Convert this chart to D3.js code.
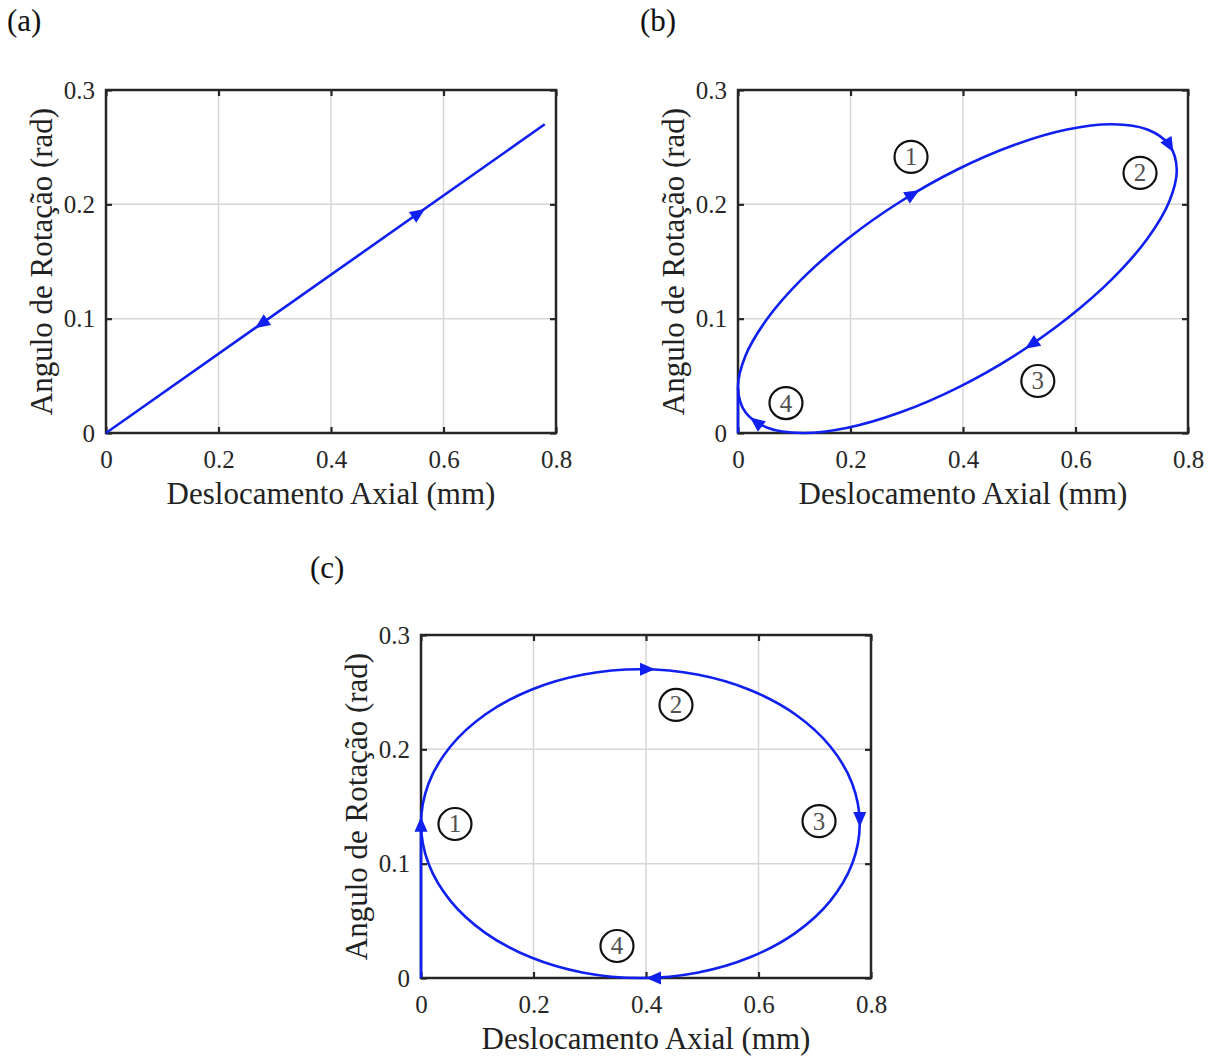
<!DOCTYPE html>
<html>
<head>
<meta charset="utf-8">
<script src="https://cdn.jsdelivr.net/npm/d3@7"></script>
<style>
  body { margin: 0; background: #fff; }
  svg { display: block; }
  text { font-family: "Liberation Serif", "Times New Roman", serif; }
</style>
</head>
<body>
<svg id="fig" width="1215" height="1057"></svg>
<script>
// ---- shared axis content ----
const xTicks = [0, 0.2, 0.4, 0.6, 0.8];
const yTicks = [0, 0.1, 0.2, 0.3];
const xTickLabels = ["0", "0.2", "0.4", "0.6", "0.8"];
const yTickLabels = ["0", "0.1", "0.2", "0.3"];
const xTitle = "Deslocamento Axial (mm)";
const yTitle = "Angulo de Rotação (rad)";

// ---- (a) in-phase motion: straight path ----
const pathA = [[0, 0], [0.78, 0.27]];
// arrows: [tipX, tipY, fromX, fromY]
const arrowsA = [[0.567, 0.196, 0.52, 0.18], [0.265, 0.0917, 0.31, 0.107]];

// ---- (b) 45 degree phase shift ----
const leadB = [[0, 0], [0, 0.0395]];
const loopB = [
  [0, 0.0395], [0.0133, 0.0675], [0.0523, 0.1001], [0.1142, 0.135],
  [0.195, 0.1699], [0.289, 0.2025], [0.39, 0.2305], [0.491, 0.2519],
  [0.585, 0.2654], [0.6658, 0.27], [0.7277, 0.2654], [0.7667, 0.2519],
  [0.78, 0.2305], [0.7667, 0.2025], [0.7277, 0.1699], [0.6658, 0.135],
  [0.585, 0.1001], [0.491, 0.0675], [0.39, 0.0395], [0.289, 0.0181],
  [0.195, 0.0046], [0.1142, 0], [0.0523, 0.0046], [0.0133, 0.0181]
];
const arrowsB = [
  [0.3223, 0.2124, 0.289, 0.2025],
  [0.7741, 0.2456, 0.7667, 0.2519],
  [0.5105, 0.0737, 0.5424, 0.0844],
  [0.0213, 0.0137, 0.0337, 0.009]
];
const stagesB = [["1", 0.3076, 0.2415], ["2", 0.7147, 0.2275], ["3", 0.533, 0.0455], ["4", 0.0853, 0.0262]];

// ---- (c) 90 degree phase shift ----
const leadC = [[0, 0], [0, 0.135]];
const loopC = [
  [0, 0.135], [0.0133, 0.1699], [0.0523, 0.2025], [0.1142, 0.2305],
  [0.195, 0.2519], [0.289, 0.2654], [0.39, 0.27], [0.491, 0.2654],
  [0.585, 0.2519], [0.6658, 0.2305], [0.7277, 0.2025], [0.7667, 0.1699],
  [0.78, 0.135], [0.7667, 0.1001], [0.7277, 0.0675], [0.6658, 0.0395],
  [0.585, 0.0181], [0.491, 0.0046], [0.39, 0], [0.289, 0.0046],
  [0.195, 0.0181], [0.1142, 0.0395], [0.0523, 0.0675], [0.0133, 0.1001]
];
const arrowsC = [
  [0, 0.141, 0, 0.12],
  [0.416, 0.27, 0.39, 0.27],
  [0.78, 0.132, 0.78, 0.15],
  [0.40, 0, 0.43, 0]
];
const stagesC = [["1", 0.0604, 0.1347], ["2", 0.4533, 0.2388], ["3", 0.7076, 0.1372], ["4", 0.3484, 0.028]];

const svg = d3.select("#fig");
const W = 450, H = 343;
const axisColor = "#262626";
const lineColor = "#1020f0";

function panel(opt) {
  const { left, top, tag, tagX, tagY, lead, loop, line, arrows, stages } = opt;
  const x = d3.scaleLinear().domain([0, 0.8]).range([left, left + W]);
  const y = d3.scaleLinear().domain([0, 0.3]).range([top + H, top]);
  const g = svg.append("g");

  // grid
  g.append("g").selectAll("line").data(xTicks).join("line")
    .attr("x1", d => x(d)).attr("x2", d => x(d)).attr("y1", top).attr("y2", top + H)
    .attr("stroke", "#d6d6d6").attr("stroke-width", 1.5);
  g.append("g").selectAll("line").data(yTicks).join("line")
    .attr("y1", d => y(d)).attr("y2", d => y(d)).attr("x1", left).attr("x2", left + W)
    .attr("stroke", "#d6d6d6").attr("stroke-width", 1.5);

  const styleAxis = sel => {
    sel.attr("font-family", null);
    sel.select(".domain").remove();
    sel.selectAll(".tick line").attr("stroke", axisColor).attr("stroke-width", 2.2);
    sel.selectAll(".tick text").attr("fill", axisColor).style("font-size", "25px");
  };

  g.append("g").attr("transform", `translate(0,${top + H})`)
    .call(d3.axisBottom(x).tickValues(xTicks).tickFormat((d, i) => xTickLabels[i])
      .tickSizeInner(-6).tickSizeOuter(0).tickPadding(17))
    .call(styleAxis);
  g.append("g").attr("transform", `translate(${left},0)`)
    .call(d3.axisLeft(y).tickValues(yTicks).tickFormat((d, i) => yTickLabels[i])
      .tickSizeInner(-6).tickSizeOuter(0).tickPadding(11))
    .call(styleAxis);
  g.append("g").attr("transform", `translate(0,${top})`)
    .call(d3.axisTop(x).tickValues(xTicks).tickFormat("").tickSizeInner(-6).tickSizeOuter(0))
    .call(styleAxis);
  g.append("g").attr("transform", `translate(${left + W},0)`)
    .call(d3.axisRight(y).tickValues(yTicks).tickFormat("").tickSizeInner(-6).tickSizeOuter(0))
    .call(styleAxis);

  // frame
  g.append("rect").attr("x", left).attr("y", top).attr("width", W).attr("height", H)
    .attr("fill", "none").attr("stroke", axisColor).attr("stroke-width", 2.5);

  // axis titles
  g.append("text").attr("x", left + W / 2).attr("y", top + H + 71)
    .attr("text-anchor", "middle").attr("fill", "#222").style("font-size", "31px").text(xTitle);
  g.append("text").attr("transform", `translate(${left - 54},${top + H / 2}) rotate(-90)`)
    .attr("text-anchor", "middle").attr("fill", "#222").style("font-size", "31px").text(yTitle);

  // panel tag
  svg.append("text").attr("x", tagX).attr("y", tagY).attr("fill", "#111")
    .style("font-size", "31px").text(tag);

  // curves
  const gen = d3.line().x(d => x(d[0])).y(d => y(d[1]));
  if (line) {
    g.append("path").attr("d", gen(line)).attr("fill", "none")
      .attr("stroke", lineColor).attr("stroke-width", 2.6);
  }
  if (lead) {
    g.append("path").attr("d", gen(lead)).attr("fill", "none")
      .attr("stroke", lineColor).attr("stroke-width", 2.6);
  }
  if (loop) {
    g.append("path").attr("d", gen.curve(d3.curveCatmullRomClosed.alpha(0.5))(loop))
      .attr("fill", "none").attr("stroke", lineColor).attr("stroke-width", 2.6);
  }

  // direction arrows
  const L = 15, hw = 6.5;
  g.append("g").selectAll("path").data(arrows).join("path")
    .attr("d", a => {
      const tx = x(a[0]), ty = y(a[1]), fx = x(a[2]), fy = y(a[3]);
      const len = Math.hypot(tx - fx, ty - fy);
      const ux = (tx - fx) / len, uy = (ty - fy) / len;
      const bx = tx - ux * L, by = ty - uy * L;
      return `M${tx},${ty}L${bx - uy * hw},${by + ux * hw}L${bx + uy * hw},${by - ux * hw}Z`;
    })
    .attr("fill", lineColor);

  // stage markers
  if (stages) {
    const s = g.append("g").selectAll("g").data(stages).join("g")
      .attr("transform", d => `translate(${x(d[1])},${y(d[2])})`);
    s.append("ellipse").attr("rx", 16.5).attr("ry", 16).attr("fill", "none")
      .attr("stroke", "#111").attr("stroke-width", 2.2);
    s.append("text").attr("text-anchor", "middle").attr("dy", "0.34em")
      .attr("fill", "#505050").style("font-size", "25px").text(d => d[0]);
  }
}

panel({ left: 106, top: 90, tag: "(a)", tagX: 7, tagY: 31, line: pathA, arrows: arrowsA });
panel({ left: 738, top: 90, tag: "(b)", tagX: 640, tagY: 31, lead: leadB, loop: loopB, arrows: arrowsB, stages: stagesB });
panel({ left: 421, top: 635, tag: "(c)", tagX: 310, tagY: 578, lead: leadC, loop: loopC, arrows: arrowsC, stages: stagesC });
</script>
</body>
</html>
